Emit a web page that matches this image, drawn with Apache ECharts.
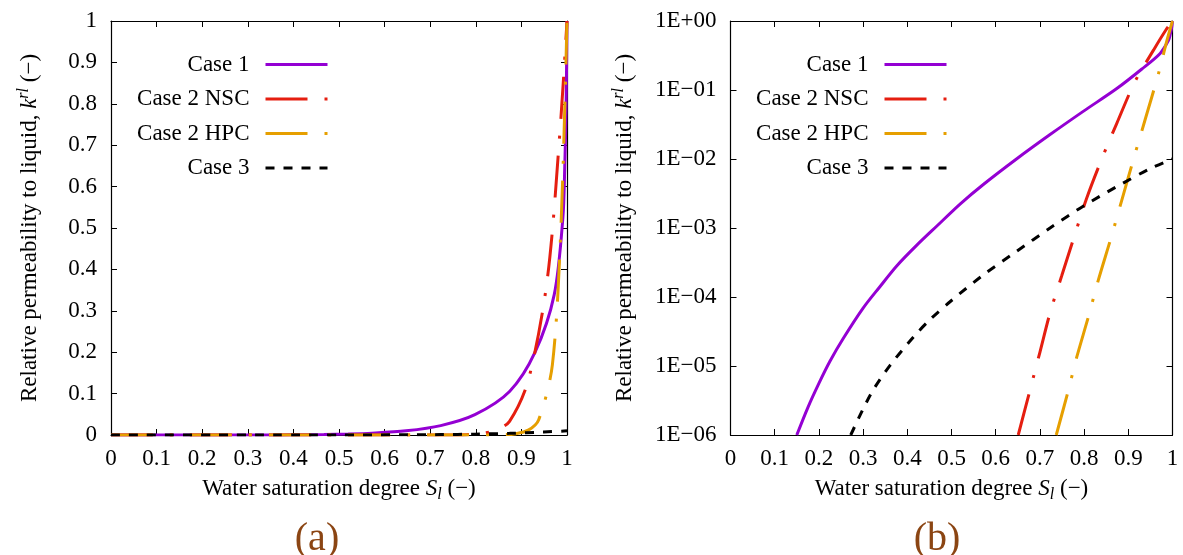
<!DOCTYPE html>
<html>
<head>
<meta charset="utf-8">
<script src="https://cdn.jsdelivr.net/npm/echarts@6/dist/echarts.min.js"></script>
<style>
html,body{margin:0;padding:0;background:#fff;}
#chart{width:1183px;height:555px;}
</style>
</head>
<body>
<div id="chart"></div>
<script>
// ---- data ----
const seriesNames = ['Case 1', 'Case 2 NSC', 'Case 2 HPC', 'Case 3'];

const case1S = [0, 0.15, 0.175, 0.20, 0.225, 0.255, 0.30, 0.338, 0.376, 0.421, 0.467, 0.52, 0.572, 0.647, 0.723, 0.798, 0.874, 0.93, 0.972, 0.991, 0.995, 0.998, 1.0];
const case1K = [0, 1.0e-6, 2.5e-6, 5.6e-6, 1.17e-5, 2.5e-5, 6.9e-5, 1.41e-4, 2.82e-4, 5.6e-4, 1.07e-3, 2.24e-3, 4.27e-3, 1.0e-2, 2.26e-2, 4.9e-2, 0.105, 0.2, 0.339, 0.525, 0.645, 0.79, 1.0];

const case2nS = [0, 0.651, 0.678, 0.70, 0.723, 0.749, 0.779, 0.806, 0.842, 0.874, 0.915, 0.957, 0.985, 1.0];
const case2nK = [0, 1.0e-6, 4.57e-6, 1.58e-5, 5.9e-5, 2.0e-4, 8.0e-4, 2.72e-3, 1.08e-2, 3.29e-2, 0.1315, 0.378, 0.74, 1.0];

const case2hS = [0, 0.737, 0.764, 0.783, 0.810, 0.832, 0.862, 0.885, 0.915, 0.938, 0.968, 0.987, 1.0];
const case2hK = [0, 1.0e-6, 4.36e-6, 1.32e-5, 5.25e-5, 1.74e-4, 7.6e-4, 2.5e-3, 1.17e-2, 3.7e-2, 0.17, 0.51, 1.0];

const case3S = [0, 0.272, 0.318, 0.361, 0.414, 0.451, 0.50, 0.572, 0.647, 0.723, 0.798, 0.874, 0.949, 1.0];
const case3K = [0, 1.0e-6, 3.98e-6, 1.02e-5, 2.63e-5, 4.68e-5, 8.9e-5, 2.09e-4, 4.57e-4, 1.0e-3, 2.07e-3, 3.98e-3, 7.24e-3, 1.0e-2];

const logTickLabels = ['1E\u221206', '1E\u221205', '1E\u221204', '1E\u221203', '1E\u221202', '1E\u221201', '1E+00'];
const panelLabels = ['(a)', '(b)'];

// ---- styling ----
const FONT = 'Liberation Serif';
const colors = ['#9400D3', '#E51E10', '#E69F00', '#000000'];
const dashes = ['solid', [42, 17, 3, 17], [42, 17, 3, 17], [9, 9]];
const sets = [[case1S, case1K], [case2nS, case2nK], [case2hS, case2hK], [case3S, case3K]];

function pairs(xs, ys, positiveOnly) {
  const out = [];
  for (let i = 0; i < xs.length; i++) {
    if (positiveOnly && !(ys[i] > 0)) continue;
    out.push([xs[i], ys[i]]);
  }
  return out;
}

const labelStyle = { fontFamily: FONT, fontSize: 23, color: '#000' };
const richName = {
  n: { fontFamily: FONT, fontSize: 23, color: '#000', lineHeight: 28 },
  i: { fontFamily: FONT, fontSize: 23, color: '#000', fontStyle: 'italic', lineHeight: 28 },
  sup: { fontFamily: FONT, fontSize: 16, color: '#000', fontStyle: 'italic', lineHeight: 14, verticalAlign: 'top' },
  sub: { fontFamily: FONT, fontSize: 16, color: '#000', fontStyle: 'italic', lineHeight: 12, verticalAlign: 'bottom' }
};
const yName = '{n|Relative permeability to liquid, }{i|k}{sup|rl}{n| (\u2212)}';
const xName = '{n|Water saturation degree }{i|S}{sub|l}{n| (\u2212)}';

function xAxisPair(grid) {
  const base = {
    gridIndex: grid, type: 'value', min: 0, max: 1, interval: 0.1,
    axisLine: { show: true, onZero: false, lineStyle: { color: '#000', width: 1.2 } },
    axisTick: { show: true, inside: true, length: 6, lineStyle: { color: '#000', width: 1 } },
    splitLine: { show: false }
  };
  return [
    Object.assign({}, base, {
      position: 'bottom',
      axisLabel: Object.assign({ margin: 12 }, labelStyle),
      name: xName, nameLocation: 'middle', nameGap: 40,
      nameTextStyle: { rich: richName }
    }),
    Object.assign({}, base, { position: 'top', axisLabel: { show: false } })
  ];
}

function yAxisPair(grid, isLog) {
  const base = {
    gridIndex: grid,
    axisLine: { show: true, onZero: false, lineStyle: { color: '#000', width: 1.2 } },
    axisTick: { show: true, inside: true, length: 6, lineStyle: { color: '#000', width: 1 } },
    splitLine: { show: false }
  };
  if (isLog) Object.assign(base, { type: 'log', logBase: 10, min: 1e-6, max: 1 });
  else Object.assign(base, { type: 'value', min: 0, max: 1, interval: 0.1 });
  const left = Object.assign({}, base, {
    position: 'left',
    axisLabel: Object.assign({ margin: 14 }, labelStyle,
      isLog ? { formatter: v => logTickLabels[Math.round(Math.log10(v)) + 6] } : {}),
    name: yName, nameLocation: 'middle', nameGap: isLog ? 92 : 67, nameRotate: 90,
    nameTextStyle: { rich: richName }
  });
  const right = Object.assign({}, base, { position: 'right', axisLabel: { show: false } });
  return [left, right];
}

const series = [];
[0, 1].forEach(function (panel) {
  sets.forEach(function (s, k) {
    series.push({
      name: seriesNames[k],
      type: 'line',
      xAxisIndex: panel * 2,
      yAxisIndex: panel * 2,
      data: pairs(s[0], s[1], panel === 1),
      showSymbol: false,
      symbol: 'none',
      smooth: 0.3,
      clip: true,
      lineStyle: { color: colors[k], width: 3, type: dashes[k], cap: 'butt' },
      itemStyle: { color: colors[k] },
      animation: false,
      z: 2 + k
    });
  });
});

function legendAt(rightPx) {
  return {
    data: seriesNames,
    orient: 'vertical',
    align: 'right',
    right: rightPx,
    top: 48,
    itemWidth: 62,
    itemHeight: 14,
    itemGap: 11.5,
    selectedMode: false,
    textStyle: { fontFamily: FONT, fontSize: 23, color: '#000', lineHeight: 23, padding: [0, 11, 0, 0] },
    lineStyle: { width: 3 },
    itemStyle: { opacity: 0 }
  };
}

const option = {
  animation: false,
  backgroundColor: '#fff',
  grid: [
    { left: 111, top: 21, width: 456, height: 414, containLabel: false },
    { left: 730.5, top: 21, width: 442, height: 414, containLabel: false }
  ],
  xAxis: xAxisPair(0).concat(xAxisPair(1)),
  yAxis: yAxisPair(0, false).concat(yAxisPair(1, true)),
  legend: [legendAt(849), legendAt(230)],
  title: [
    { text: panelLabels[0], left: 312, top: 514, textAlign: 'center',
      textStyle: { fontFamily: FONT, fontSize: 40, fontWeight: 'normal', color: '#8B4513' } },
    { text: panelLabels[1], left: 932, top: 514, textAlign: 'center',
      textStyle: { fontFamily: FONT, fontSize: 40, fontWeight: 'normal', color: '#8B4513' } }
  ],
  series: series
};

const chart = echarts.init(document.getElementById('chart'), null, { renderer: 'canvas' });
chart.setOption(option);
</script>
</body>
</html>
